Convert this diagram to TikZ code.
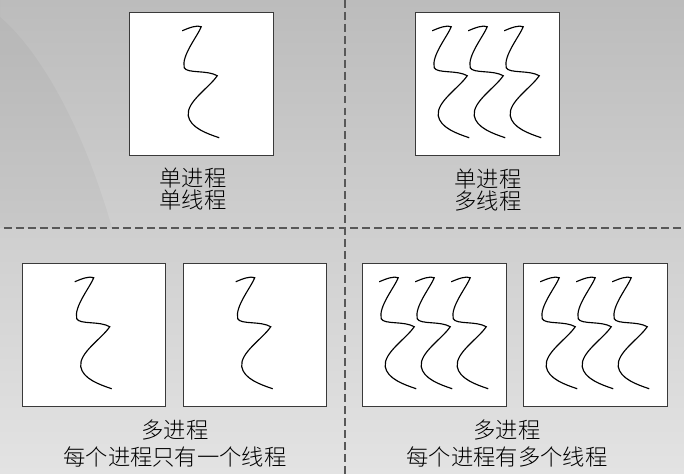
\documentclass[tikz,border=0pt]{standalone}
\usepackage{fontspec}
\newfontfamily\cjk{Noto Sans CJK SC}[UprightFont={* Light}]
\usetikzlibrary{positioning}
\definecolor{bgtop}{RGB}{188,188,188}
\definecolor{bgbot}{RGB}{227,227,227}
\definecolor{edge}{RGB}{58,58,58}
\newcommand{\boxsize}{2.87cm}
\tikzset{
  thread/.pic={
    \draw[line width=.65pt] (53,19) .. controls (60,16) and (68,13) .. (72,15)
      .. controls (68,25) and (52,44) .. (55,56)
      .. controls (58,62) and (78,58) .. (88,64)
      .. controls (80,76) and (57,90) .. (59,104)
      .. controls (61,116) and (78,122) .. (90,126);
  }
}

\begin{document}
\begin{tikzpicture}[x=.02cm,y=-.02cm,
    proc/.style={draw=edge, fill=white, line width=.6pt, minimum size=\boxsize, inner sep=0pt},
    lbl/.style={align=center, text=black, font=\cjk\fontsize{12.7}{13}\selectfont},
    divider/.style={draw=edge!85, line width=.75pt, dash pattern=on 4.5pt off 2.3pt}]
        \useasboundingbox (0,0) rectangle (684,474);
        \shade[top color=bgtop, bottom color=bgbot] (0,0) rectangle (684,474);
        \fill[black, opacity=.03] (0,0) -- (0,17) .. controls (50,60) and (90,150) .. (112,228)
          -- (0,228) -- cycle;
        \draw[divider] (4,228) -- (684,228);
        \draw[divider] (345,0) -- (345,474);

        % one process, one or three threads
        \node (sp) at (201.5,84) [proc] {};
        \node (mt) at (487.5,84) [proc] {};
        \pic at (sp.north west) {thread};
        \foreach \d in {-36,0,36}
                 \path (mt.north west) ++(\d,0) pic {thread};

        % several processes
        \foreach \n/\x in {a/94,b/255}
                 {
                   \node (mp\n) at (\x,335) [proc] {};
                   \pic at (mp\n.north west) {thread};
                 }
        \foreach \n/\x in {a/434.5,b/595.5}
                 {
                   \node (mm\n) at (\x,335) [proc] {};
                   \foreach \d in {-36,0,36}
                            \path (mm\n.north west) ++(\d,0) pic {thread};
                 }

        \node[lbl] (splbl) at (193,189) {单进程\\单线程};
        \node[lbl] (mtlbl) at (488,190) {单进程\\多线程};
        \node[lbl] (mplbl) at (175,443.5) {多进程\\[2.3pt]每个进程只有一个线程};
        \node[lbl] (mmlbl) at (507,443.5) {多进程\\[2.3pt]每个进程有多个线程};
      \end{tikzpicture}
\end{document}
